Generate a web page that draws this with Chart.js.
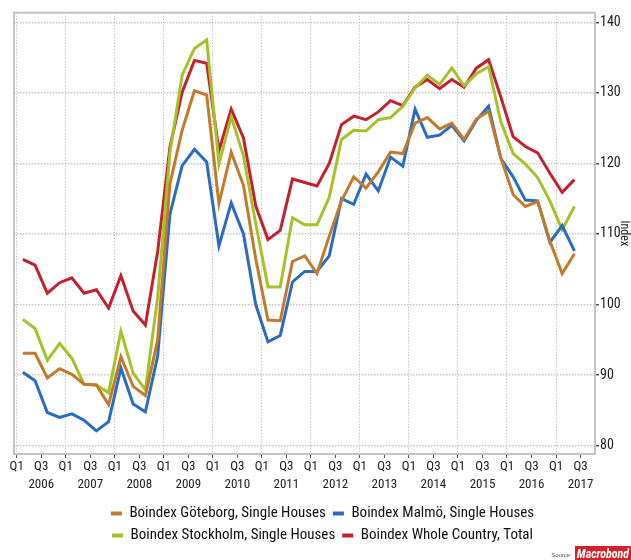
<!DOCTYPE html>
<html>
<head>
<meta charset="utf-8">
<script src="https://cdn.jsdelivr.net/npm/chart.js@4.4.1/dist/chart.umd.min.js"></script>
<style>
  html, body { margin: 0; padding: 0; background: #fff; }
  #wrap { position: relative; width: 631px; height: 560px; overflow: hidden; }
  #source { position: absolute; right: 0; bottom: 0; height: 14px; display: flex; align-items: flex-end; }
  #source .src { font: 6px 'Liberation Sans', sans-serif; color: #555; margin-right: 3px; margin-bottom: 2px; }
  #source .logo { background: #d3222a; color: #fff; font: italic bold 12px 'Roboto Condensed', sans-serif; padding: 0 2px; height: 14px; line-height: 16px; overflow: hidden; }
</style>
</head>
<body>
<div id="wrap">
  <canvas id="chart" width="631" height="560"></canvas>
  <div id="source"><span class="src">Source:</span><span class="logo">Macrobond</span></div>
</div>
<script>
// quarterly values, Q1 2006 .. Q2 2017
const goteborg = [93.1, 93.1, 89.6, 90.9, 90.1, 88.7, 88.6, 85.8, 92.6, 88.4, 87.1, 95.0,
  117.1, 124.7, 130.3, 129.7, 114.3, 121.6, 116.9, 106.5, 97.8, 97.7, 106.1, 106.9,
  104.4, 109.7, 114.7, 118.1, 116.5, 118.8, 121.6, 121.4, 125.7, 126.5, 124.9, 125.7,
  123.4, 126.3, 127.4, 120.8, 115.6, 113.9, 114.6, 109.0, 104.4, 107.2];
const malmo = [90.4, 89.2, 84.7, 84.0, 84.5, 83.6, 82.1, 83.4, 91.0, 85.9, 84.8, 92.7,
  112.8, 119.7, 122.0, 120.2, 108.3, 114.4, 110.0, 100.0, 94.7, 95.6, 103.2, 104.7,
  104.7, 106.9, 115.0, 114.2, 118.5, 116.1, 120.9, 119.6, 127.7, 123.7, 124.0, 125.4,
  123.2, 126.1, 128.1, 120.7, 118.1, 114.8, 114.7, 108.8, 111.2, 107.6];
const stockholm = [97.9, 96.6, 92.1, 94.5, 92.4, 88.7, 88.6, 87.5, 96.2, 90.3, 87.9, 101.0,
  121.5, 132.5, 136.3, 137.5, 119.9, 126.6, 121.1, 111.5, 102.5, 102.5, 112.3, 111.3,
  111.3, 115.2, 123.4, 124.7, 124.6, 126.2, 126.5, 128.1, 130.7, 132.5, 131.2, 133.5,
  131.0, 132.7, 133.7, 125.9, 121.4, 119.9, 118.0, 114.7, 110.6, 113.9];
const wholeCountry = [106.4, 105.6, 101.6, 103.1, 103.8, 101.6, 102.1, 99.5, 104.1, 99.1, 97.1, 107.5,
  122.3, 130.1, 134.6, 134.2, 121.8, 127.7, 123.6, 114.0, 109.2, 110.5, 117.8, 117.3,
  116.8, 120.0, 125.5, 126.7, 126.2, 127.3, 128.9, 128.2, 130.8, 131.9, 130.6, 131.9,
  130.8, 133.5, 134.7, 129.4, 123.8, 122.4, 121.5, 118.6, 115.9, 117.7];

const years = [2006, 2007, 2008, 2009, 2010, 2011, 2012, 2013, 2014, 2015, 2016, 2017];
const yTicks = [80, 90, 100, 110, 120, 130, 140];

const seriesNames = ['Boindex Göteborg, Single Houses', 'Boindex Malmö, Single Houses',
  'Boindex Stockholm, Single Houses', 'Boindex Whole Country, Total'];
const seriesColors = ['#c27b2c', '#2a6cc3', '#a6c22a', '#c5202f'];

const FONT = "'Roboto Condensed', 'DejaVu Sans Condensed', sans-serif";

// x is quarters since Q1 2006, point plotted mid-quarter
function toPoints(values) {
  return values.map((v, i) => ({ x: i + 0.5, y: v }));
}

// Q1 and Q3 tick for every year
let xTicks = [];
years.forEach((yr, i) => { xTicks.push(i * 4); xTicks.push(i * 4 + 2); });

const framePlugin = {
  id: 'frame',
  beforeDatasetsDraw(chart) {
    const a = chart.chartArea;
    const ctx = chart.ctx;
    ctx.save();
    ctx.strokeStyle = '#c4c4c4';
    ctx.lineWidth = 2;
    ctx.strokeRect(a.left, a.top, a.right - a.left, a.bottom - a.top);
    ctx.restore();
  }
};

const allSeries = [goteborg, malmo, stockholm, wholeCountry];

new Chart(document.getElementById('chart'), {
  type: 'line',
  data: {
    datasets: allSeries.map((s, i) => ({
      label: seriesNames[i],
      data: toPoints(s),
      borderColor: seriesColors[i],
      backgroundColor: seriesColors[i],
      borderWidth: 3,
      pointRadius: 0,
      tension: 0
    }))
  },
  options: {
    responsive: false,
    animation: false,
    devicePixelRatio: 1,
    layout: { padding: { left: 14, right: 0, top: 12.7, bottom: 7 } },
    scales: {
      x: {
        type: 'linear',
        min: -0.22,
        max: 47.18,
        afterBuildTicks: s => { s.ticks = xTicks.map(v => ({ value: v })); },
        afterFit: s => { s.height = 45; },
        grid: {
          color: c => (c.tick && c.tick.value % 4 === 0) ? '#adadad' : 'rgba(0,0,0,0)',
          lineWidth: 1,
          tickColor: '#555',
          tickLength: 4
        },
        border: { display: false, dash: [1, 2] },
        ticks: {
          autoSkip: false,
          maxRotation: 0,
          padding: 0,
          color: '#222',
          font: { family: FONT, size: 13, lineHeight: 1.35 },
          callback: v => {
            const q = v % 4 === 0 ? 'Q1' : 'Q3';
            const yr = v % 4 === 2 ? String(years[(v - 2) / 4]) : '';
            return [q, yr];
          }
        }
      },
      y: {
        position: 'right',
        min: 78.82,
        max: 141.36,
        afterBuildTicks: s => { s.ticks = yTicks.map(v => ({ value: v })); },
        afterFit: s => { s.width = 36; },
        grid: { color: '#c6c6c6', lineWidth: 1.5, tickColor: '#555', tickLength: 4 },
        border: { display: false, dash: [1.5, 1.5] },
        ticks: { padding: 1, color: '#222', font: { family: FONT, size: 14 } },
        title: { display: true, text: 'Index', color: '#222', font: { family: FONT, size: 12 }, padding: 0 }
      }
    },
    plugins: {
      legend: {
        position: 'bottom',
        labels: {
          boxWidth: 11,
          boxHeight: 4,
          padding: 7,
          color: '#111',
          font: { family: FONT, size: 15 },
          generateLabels: chart => Chart.defaults.plugins.legend.labels.generateLabels(chart)
            .map(l => Object.assign(l, { lineWidth: 0 }))
        }
      },
      tooltip: { enabled: false }
    }
  },
  plugins: [framePlugin]
});
</script>
</body>
</html>
